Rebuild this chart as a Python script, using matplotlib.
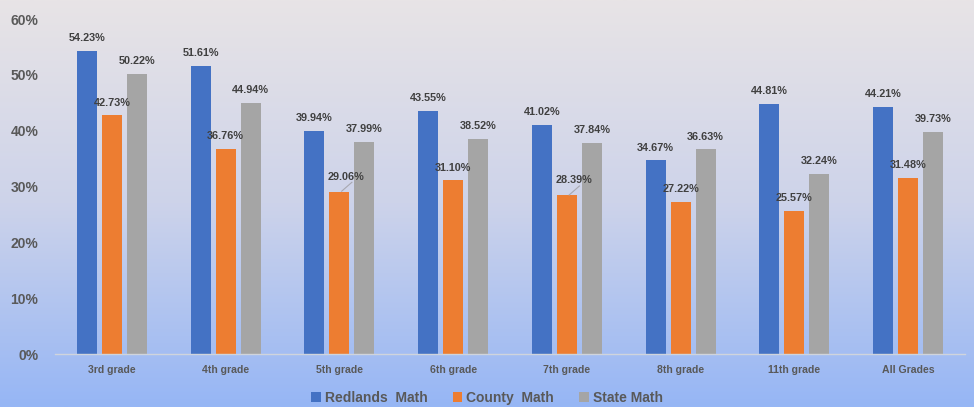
import numpy as np
import matplotlib
matplotlib.use('Agg')
import matplotlib.pyplot as plt
from matplotlib.colors import LinearSegmentedColormap
from matplotlib.ticker import PercentFormatter

# data
grades = ['3rd grade', '4th grade', '5th grade', '6th grade', '7th grade',
          '8th grade', '11th grade', 'All Grades']
redlands = [54.23, 51.61, 39.94, 43.55, 41.02, 34.67, 44.81, 44.21]
county = [42.73, 36.76, 29.06, 31.10, 28.39, 27.22, 25.57, 31.48]
state = [50.22, 44.94, 37.99, 38.52, 37.84, 36.63, 32.24, 39.73]
series_names = ['Redlands  Math', 'County  Math', 'State Math']
colors = ['#4472C4', '#ED7D31', '#A5A5A5']

plt.rcParams['font.family'] = ['Liberation Sans', 'DejaVu Sans']

fig = plt.figure(figsize=(9.74, 4.07), dpi=100)

# gradient background over whole figure
bg = fig.add_axes([0, 0, 1, 1], zorder=-10)
cmap = LinearSegmentedColormap.from_list('bg', ['#e8e4e6', '#cdd3ea', '#96b6f5'])
bg.imshow(np.linspace(0, 1, 256).reshape(-1, 1), aspect='auto', cmap=cmap,
          extent=[0, 1, 0, 1], origin='upper')
bg.axis('off')

ax = fig.add_axes([0.0565, 0.1302, 0.9343, 0.8231])
ax.patch.set_alpha(0)

x = np.arange(len(grades))
w = 0.175
step = 0.22
label_color = '#404040'
for i, (vals, name, c) in enumerate(zip([redlands, county, state], series_names, colors)):
    xs = x + (i - 1) * step
    ax.bar(xs, vals, width=w, color=c, label=name, zorder=2)
    for xi, v in zip(xs, vals):
        if (i == 1 and v in (29.06, 28.39)):
            # label pushed away with leader line
            ax.plot([xi + 0.02, xi + 0.11], [v + 0.1, v + 1.7], color='#a8a8b0',
                    lw=0.8, zorder=3)
            ax.text(xi + 0.06, v + 1.8, f'{v:.2f}%', ha='center', va='bottom',
                    fontsize=7.8, fontweight='bold', color=label_color)
        else:
            ax.text(xi, v + 1.4, f'{v:.2f}%', ha='center', va='bottom',
                    fontsize=7.8, fontweight='bold', color=label_color)

ax.set_xlim(-0.5, len(grades) - 0.5)
ax.set_ylim(0, 60)
ax.set_yticks(np.arange(0, 61, 10))
ax.yaxis.set_major_formatter(PercentFormatter(decimals=0))
ax.set_xticks(x)
ax.set_xticklabels(grades)
for lab in ax.get_xticklabels():
    lab.set_fontsize(7.6)
    lab.set_fontweight('bold')
    lab.set_color('#595959')
for lab in ax.get_yticklabels():
    lab.set_fontsize(10)
    lab.set_fontweight('bold')
    lab.set_color('#595959')
ax.tick_params(axis='both', length=0)
ax.tick_params(axis='x', pad=8)
ax.tick_params(axis='y', pad=12)
for s in ['top', 'right', 'left']:
    ax.spines[s].set_visible(False)
ax.spines['bottom'].set_color('#d0d4dc')
ax.spines['bottom'].set_linewidth(1.0)

leg = fig.legend(loc='center', bbox_to_anchor=(0.5, 0.022), ncol=3, frameon=False,
                 prop={'size': 10, 'weight': 'bold'}, handlelength=0.7,
                 handleheight=0.7, handletextpad=0.3, columnspacing=1.8)
for t in leg.get_texts():
    t.set_color('#595959')

fig.savefig('out.png', dpi=100)
